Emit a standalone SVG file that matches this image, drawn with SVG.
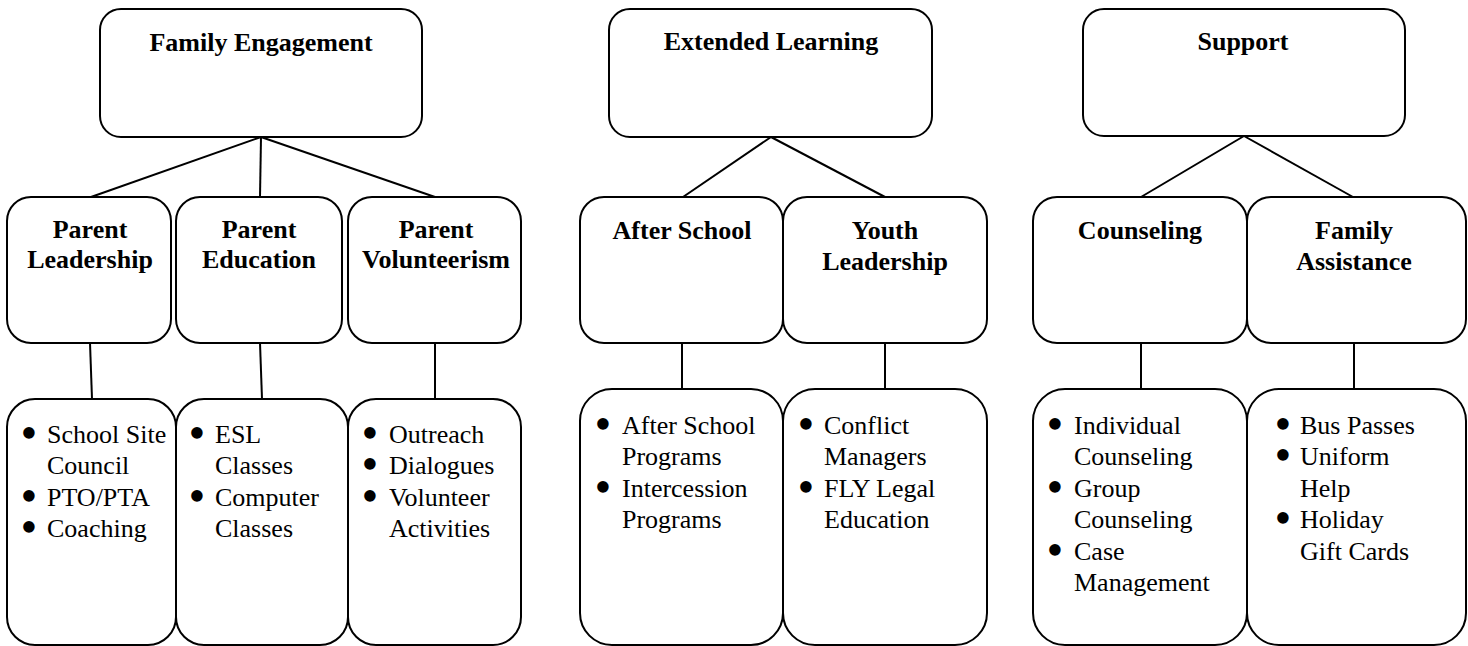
<svg xmlns="http://www.w3.org/2000/svg" width="1468" height="646" viewBox="0 0 1468 646">
<style>
rect{fill:#fff;stroke:#000;stroke-width:2}
line{stroke:#000;stroke-width:2}
text{font-family:"Liberation Serif","Times New Roman",serif;font-size:26px;fill:#000}
.h{font-weight:bold;text-anchor:middle}
.b{font-size:48px;text-anchor:middle}
</style>
<rect width="1468" height="646" style="stroke:none"/>
<g id="connectors">
<line x1="261" y1="137" x2="91" y2="197"/>
<line x1="261" y1="137" x2="260" y2="197"/>
<line x1="261" y1="137" x2="435" y2="197"/>
<line x1="90" y1="343" x2="92" y2="399"/>
<line x1="260" y1="343" x2="262" y2="399"/>
<line x1="435" y1="343" x2="435" y2="399"/>
<line x1="771" y1="137" x2="683" y2="197"/>
<line x1="771" y1="137" x2="885" y2="197"/>
<line x1="682" y1="343" x2="682" y2="389"/>
<line x1="885" y1="343" x2="885" y2="389"/>
<line x1="1244" y1="136" x2="1141" y2="197"/>
<line x1="1244" y1="136" x2="1353" y2="197"/>
<line x1="1141" y1="343" x2="1141" y2="389"/>
<line x1="1354" y1="343" x2="1354" y2="389"/>
</g>
<g id="family-engagement"><rect x="100" y="9" width="322" height="128" rx="21"/><text class="h" x="261" y="51">Family Engagement</text></g>
<g id="parent-leadership"><rect x="7" y="197" width="164" height="146" rx="24"/><text class="h" x="90" y="238">Parent</text><text class="h" x="90" y="268">Leadership</text></g>
<g id="parent-education"><rect x="176" y="197" width="166" height="146" rx="24"/><text class="h" x="259" y="238">Parent</text><text class="h" x="259" y="268">Education</text></g>
<g id="parent-volunteerism"><rect x="348" y="197" width="173" height="146" rx="24"/><text class="h" x="436" y="238">Parent</text><text class="h" x="436" y="268">Volunteerism</text></g>
<g id="pl-items"><rect x="7" y="399" width="169" height="246" rx="28"/>
<text class="b" x="29" y="449">•</text><text x="47" y="443">School Site</text><text x="47" y="474">Council</text>
<text class="b" x="29" y="512">•</text><text x="47" y="506">PTO/PTA</text>
<text class="b" x="29" y="543">•</text><text x="47" y="537">Coaching</text></g>
<g id="pe-items"><rect x="176" y="399" width="172" height="246" rx="28"/>
<text class="b" x="197" y="449">•</text><text x="215" y="443">ESL</text><text x="215" y="474">Classes</text>
<text class="b" x="197" y="512">•</text><text x="215" y="506">Computer</text><text x="215" y="537">Classes</text></g>
<g id="pv-items"><rect x="348" y="399" width="173" height="246" rx="28"/>
<text class="b" x="370" y="449">•</text><text x="389" y="443">Outreach</text>
<text class="b" x="370" y="480">•</text><text x="389" y="474">Dialogues</text>
<text class="b" x="370" y="512">•</text><text x="389" y="506">Volunteer</text><text x="389" y="537">Activities</text></g>
<g id="extended-learning"><rect x="609" y="9" width="323" height="128" rx="21"/><text class="h" x="771" y="50">Extended Learning</text></g>
<g id="after-school"><rect x="580" y="197" width="203" height="146" rx="24"/><text class="h" x="682" y="239">After School</text></g>
<g id="youth-leadership"><rect x="783" y="197" width="204" height="146" rx="24"/><text class="h" x="885" y="239">Youth</text><text class="h" x="885" y="270">Leadership</text></g>
<g id="as-items"><rect x="580" y="389" width="203" height="256" rx="32"/>
<text class="b" x="603" y="440">•</text><text x="622" y="434">After School</text><text x="622" y="465">Programs</text>
<text class="b" x="603" y="503">•</text><text x="622" y="497">Intercession</text><text x="622" y="528">Programs</text></g>
<g id="yl-items"><rect x="783" y="389" width="204" height="256" rx="32"/>
<text class="b" x="806" y="440">•</text><text x="824" y="434">Conflict</text><text x="824" y="465">Managers</text>
<text class="b" x="806" y="503">•</text><text x="824" y="497">FLY Legal</text><text x="824" y="528">Education</text></g>
<g id="support"><rect x="1083" y="9" width="322" height="127" rx="21"/><text class="h" x="1243" y="50">Support</text></g>
<g id="counseling"><rect x="1033" y="197" width="214" height="146" rx="24"/><text class="h" x="1140" y="239">Counseling</text></g>
<g id="family-assistance"><rect x="1247" y="197" width="219" height="146" rx="24"/><text class="h" x="1354" y="239">Family</text><text class="h" x="1354" y="270">Assistance</text></g>
<g id="c-items"><rect x="1033" y="389" width="214" height="256" rx="32"/>
<text class="b" x="1055" y="440">•</text><text x="1074" y="434">Individual</text><text x="1074" y="465">Counseling</text>
<text class="b" x="1055" y="503">•</text><text x="1074" y="497">Group</text><text x="1074" y="528">Counseling</text>
<text class="b" x="1055" y="566">•</text><text x="1074" y="560">Case</text><text x="1074" y="591">Management</text></g>
<g id="fa-items"><rect x="1247" y="389" width="219" height="256" rx="32"/>
<text class="b" x="1283" y="440">•</text><text x="1300" y="434">Bus Passes</text>
<text class="b" x="1283" y="471">•</text><text x="1300" y="465">Uniform</text><text x="1300" y="497">Help</text>
<text class="b" x="1283" y="534">•</text><text x="1300" y="528">Holiday</text><text x="1300" y="560">Gift Cards</text></g>
</svg>
